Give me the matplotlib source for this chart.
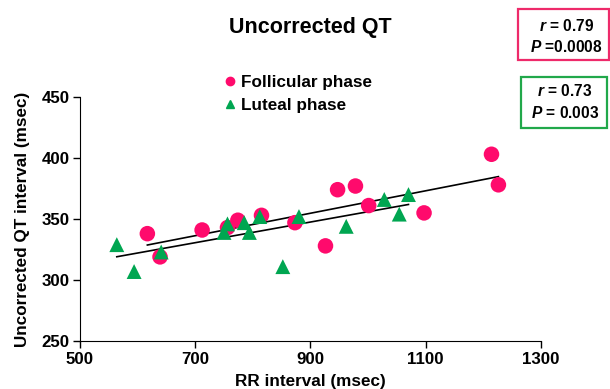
import matplotlib
matplotlib.use("Agg")
import matplotlib.pyplot as plt
from matplotlib.patches import Rectangle
from matplotlib.lines import Line2D

plt.rcParams['font.family'] = ['Liberation Sans', 'DejaVu Sans']
plt.rcParams['font.weight'] = 'bold'
plt.rcParams['mathtext.fontset'] = 'custom'
plt.rcParams['mathtext.it'] = 'Liberation Sans:italic:bold'
plt.rcParams['mathtext.rm'] = 'Liberation Sans:bold'

# follicular phase (pink circles)
fol_rr = [617, 639, 712, 756, 774, 815, 873, 926, 947, 978, 1001, 1097, 1214, 1226]
fol_qt = [338, 319, 341, 343, 349, 353, 347, 328, 374, 377, 361, 355, 403, 378]
# luteal phase (green triangles)
lut_rr = [564, 594, 641, 750, 756, 785, 794, 812, 852, 880, 962, 1028, 1054, 1070]
lut_qt = [329, 307, 323, 339, 346, 347, 339, 352, 311, 352, 344, 366, 354, 370]

# regression lines, end points
fol_fit_x = [617, 1226]
fol_fit_y = [328.7, 384.7]
lut_fit_x = [564, 1070]
lut_fit_y = [319.1, 361.9]

pink = '#FF0A6C'
green = '#00A651'

fig = plt.figure(figsize=(6.10, 3.89), dpi=100)
ax = fig.add_axes([0.131, 0.123, 0.756, 0.628])

ax.plot(fol_fit_x, fol_fit_y, color='black', lw=1.2, zorder=1)
ax.plot(lut_fit_x, lut_fit_y, color='black', lw=1.2, zorder=1)
ax.scatter(fol_rr, fol_qt, s=125, marker='o', color=pink, edgecolors='none', zorder=2)
ax.scatter(lut_rr, lut_qt, s=115, marker='^', color=green, edgecolors='none', zorder=3)

ax.set_xlim(500, 1300)
ax.set_ylim(250, 450)
ax.set_xticks([500, 700, 900, 1100, 1300])
ax.set_yticks([250, 300, 350, 400, 450])
ax.spines['top'].set_visible(False)
ax.spines['right'].set_visible(False)
ax.tick_params(direction='out', length=5, width=1, labelsize=12.2, pad=2.5)
for lab in ax.get_xticklabels() + ax.get_yticklabels():
    lab.set_fontweight('bold')
ax.set_xlabel('RR interval (msec)', fontsize=12.3, fontweight='bold', labelpad=5)
ax.set_ylabel('Uncorrected QT interval (msec)', fontsize=12.3, fontweight='bold', labelpad=8)

fig.text(310 / 610, 1 - 27 / 389, 'Uncorrected QT', ha='center', va='center',
         fontsize=15.5, fontweight='bold')

handles = [Line2D([], [], marker='o', color=pink, ls='none', markersize=6),
           Line2D([], [], marker='^', color=green, ls='none', markersize=6)]
fig.legend(handles, ['Follicular phase', 'Luteal phase'], loc='upper left',
           bbox_to_anchor=(0.355, 0.825), frameon=False, fontsize=12.3,
           handletextpad=0.25, handlelength=0.8, labelspacing=0.45, borderaxespad=0)

# stats boxes
fig.patches.append(Rectangle((518 / 610, 1 - 60 / 389), 91 / 610, 51 / 389,
                             transform=fig.transFigure, fill=False, ec='#EE2A6A', lw=1.6))
fig.patches.append(Rectangle((521 / 610, 1 - 128 / 389), 86 / 610, 51 / 389,
                             transform=fig.transFigure, fill=False, ec='#21A84A', lw=1.6))
fig.text(567 / 610, 1 - 26 / 389, '$r$ = 0.79', ha='center', va='center', fontsize=11.2)
fig.text(566 / 610, 1 - 47 / 389, '$P$ =0.0008', ha='center', va='center', fontsize=11.2)
fig.text(565 / 610, 1 - 91 / 389, '$r$ = 0.73', ha='center', va='center', fontsize=11.2)
fig.text(565 / 610, 1 - 113 / 389, '$P$ = 0.003', ha='center', va='center', fontsize=11.2)

fig.savefig('out.png', dpi=100)
